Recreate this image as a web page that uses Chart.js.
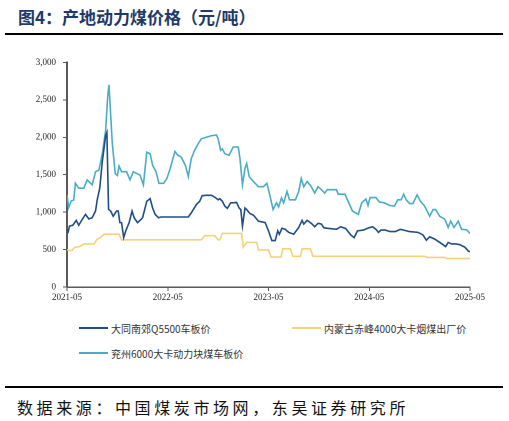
<!DOCTYPE html>
<html lang="zh-CN">
<head>
<meta charset="UTF-8">
<title>产地动力煤价格</title>
<script src="https://cdn.jsdelivr.net/npm/chart.js@4.4.1/dist/chart.umd.min.js"></script>
<style>
    html, body {
        margin: 0;
        padding: 0;
        background: #ffffff;
    }
    .page {
        position: relative;
        width: 509px;
        height: 421px;
        overflow: hidden;
        font-family: "Noto Sans CJK SC", sans-serif;
    }
    .title {
        position: absolute;
        left: 18px;
        top: 4px;
        font-size: 17px;
        font-weight: 700;
        color: #1f3a68;
        white-space: nowrap;
    }
    .rule {
        position: absolute;
        left: 5px;
        width: 498px;
        height: 2px;
        background: #000;
    }
    .chart-box {
        position: absolute;
        left: 0;
        top: 50px;
        width: 509px;
        height: 260px;
    }
    .legend-item {
        position: absolute;
        display: flex;
        align-items: center;
        font-size: 10px;
        color: #333;
        white-space: nowrap;
        height: 14px;
    }
    .legend-item .swatch {
        width: 29px;
        height: 2px;
        margin-right: 3px;
    }
    .source {
        position: absolute;
        left: 17px;
        top: 395px;
        font-size: 16px;
        letter-spacing: 3.6px;
        color: #111;
        white-space: nowrap;
    }
</style>
</head>
<body>
<div class="page">
    <div class="title">图4：产地动力煤价格（元/吨）</div>
    <div class="rule" style="top: 33px;"></div>
    <div class="chart-box"><canvas id="coalChart" width="509" height="260"></canvas></div>
    <div id="legend"></div>
    <div class="rule" style="top: 386px;"></div>
    <div class="source">数据来源：中国煤炭市场网，东吴证券研究所</div>
</div>

<script>
// Months counted from 2021-05 (0 = 2021-05, 48 = 2025-05)
const axisStartYear = 2021;
const yTicks = [0, 500, 1000, 1500, 2000, 2500, 3000];
const xTicks = [0, 12, 24, 36, 48];

const seriesNames = ['大同南郊Q5500车板价', '内蒙古赤峰4000大卡烟煤出厂价', '兖州6000大卡动力块煤车板价'];
const seriesColors = ['#1f4e84', '#f3d27a', '#4bacc6'];

// 大同南郊Q5500车板价
const datongMonths = [0, 0.15, 0.3, 0.7, 1.1, 1.4, 1.8, 2.2, 2.6, 3.0, 3.4, 3.6, 3.9, 4.2, 4.6, 4.75, 4.95, 5.2, 5.5, 5.9,
    6.1, 6.3, 6.5, 6.75, 7.0, 7.4, 7.75, 8.0, 8.4, 8.8, 9.0, 9.5, 9.9, 10.2, 10.5, 10.9, 11.2, 14.45, 14.8, 15.4,
    15.8, 16.1, 16.6, 17.2, 17.6, 18.0, 18.2, 18.5, 18.8, 19.1, 19.5, 19.8, 20.2, 20.5, 20.7, 20.9, 21.2, 21.4, 21.8, 22.2,
    22.8, 23.6, 24.0, 24.4, 24.8, 25.1, 25.3, 25.6, 26.0, 26.4, 27.0, 27.6, 28.0, 28.2, 28.6, 29.1, 29.5, 29.9, 30.3, 30.6,
    31.3, 32.1, 32.6, 33.2, 33.8, 34.2, 34.6, 35.3, 35.8, 36.4, 36.8, 37.1, 37.4, 37.9, 38.5, 39.1, 39.7, 40.1, 40.8, 41.8,
    42.4, 42.8, 43.2, 43.8, 44.4, 45.1, 45.4, 45.8, 46.3, 46.8, 47.4, 47.8, 48.0];
const datongPrices = [770, 740, 815, 825, 890, 825, 900, 970, 910, 925, 1015, 1165, 1320, 1670, 2020, 2065, 1035, 1015, 945, 1015,
    1015, 860, 860, 660, 750, 860, 1015, 925, 860, 900, 925, 1145, 1180, 1055, 970, 925, 935, 935, 990, 1100,
    1145, 1220, 1225, 1225, 1200, 1165, 1180, 1145, 1080, 1050, 1125, 1125, 1130, 1055, 1035, 815, 1055, 1035, 980, 960,
    880, 860, 750, 620, 620, 750, 705, 785, 770, 730, 705, 795, 890, 840, 890, 850, 805, 850, 840, 790,
    780, 770, 805, 780, 695, 660, 750, 760, 785, 805, 770, 730, 760, 760, 740, 740, 770, 760, 740, 730,
    695, 625, 670, 640, 595, 540, 595, 575, 575, 565, 530, 480, 470];

// 内蒙古赤峰4000大卡烟煤出厂价
const chifengMonths = [0, 0.3, 0.6, 0.9, 1.5, 2.0, 3.2, 3.6, 4.0, 4.4, 6.2, 6.5, 16.0, 16.4, 17.6, 18.0, 18.2, 18.5, 20.8, 21.0,
    21.4, 22.6, 22.8, 24.0, 24.3, 25.5, 25.7, 26.6, 26.9, 27.8, 28.0, 29.0, 29.3, 42.6, 42.9, 45.0, 45.2, 48.0];
const chifengPrices = [500, 485, 490, 530, 540, 575, 575, 640, 660, 705, 705, 630, 630, 685, 685, 630, 630, 715, 715, 530,
    595, 595, 495, 495, 400, 400, 510, 510, 410, 410, 510, 510, 410, 410, 395, 395, 380, 380];

// 兖州6000大卡动力块煤车板价
const yanzhouMonths = [0, 0.2, 0.5, 0.8, 1.0, 1.4, 2.0, 2.4, 3.0, 3.4, 3.8, 4.2, 4.6, 4.85, 5.0, 5.4, 5.75, 6.0, 6.2, 6.5,
    7.1, 7.5, 7.9, 8.3, 8.7, 9.1, 9.5, 9.9, 10.2, 10.6, 10.95, 11.5, 11.9, 12.3, 12.85, 13.2, 13.6, 14.1, 14.45, 14.8,
    15.2, 15.6, 16.0, 16.6, 17.2, 17.8, 18.0, 18.3, 18.5, 18.8, 19.3, 19.8, 20.4, 20.6, 20.9, 21.2, 21.4, 21.7, 22.2, 22.8,
    23.4, 23.8, 24.1, 24.55, 24.95, 25.2, 25.55, 25.8, 26.2, 26.5, 27.2, 27.6, 27.9, 28.2, 28.6, 29.1, 29.5, 29.9, 30.3, 30.7,
    31.0, 32.1, 32.3, 33.1, 34.0, 34.7, 35.1, 35.6, 35.85, 36.1, 36.8, 37.2, 37.8, 38.4, 39.0, 39.4, 39.8, 40.1, 40.4, 40.8,
    41.2, 41.7, 42.1, 42.6, 43.2, 43.6, 43.9, 44.4, 45.0, 45.4, 45.7, 46.1, 46.6, 47.0, 47.6, 48.0];
const yanzhouPrices = [1230, 1060, 1150, 1160, 1385, 1320, 1320, 1430, 1365, 1540, 1560, 1780, 2090, 2550, 2700, 1910, 1515, 1490, 1615, 1540,
    1540, 1430, 1540, 1515, 1495, 1365, 1800, 1780, 1625, 1540, 1385, 1385, 1450, 1585, 1810, 1760, 1735, 1625, 1475, 1715,
    1825, 1910, 1980, 2000, 2020, 2030, 1980, 1825, 1845, 1780, 1760, 1870, 1870, 1715, 1365, 1585, 1650, 1475, 1410, 1340,
    1340, 1385, 1255, 1035, 1125, 1070, 1190, 1125, 1275, 1165, 1165, 1275, 1450, 1340, 1410, 1340, 1255, 1340, 1300, 1255,
    1300, 1300, 1240, 1240, 1015, 970, 1125, 1175, 1090, 1195, 1195, 1135, 1125, 1090, 1080, 1165, 1165, 1240, 1165, 1115,
    1115, 1230, 1145, 1080, 945, 1035, 1035, 945, 905, 795, 880, 795, 880, 770, 765, 715];

// Pair month offsets with prices for a linear x axis
function toPoints(months, prices) {
    return months.map((m, i) => ({ x: m, y: prices[i] }));
}

function monthLabel(value) {
    return (axisStartYear + Math.round(value / 12)) + '-05';
}

const axisColor = '#595959';
const tickFont = { family: '"Liberation Serif", "Times New Roman", serif', size: 9 };

document.addEventListener('DOMContentLoaded', function() {
    initCoalChart();
});

function initCoalChart() {
    const ctx = document.getElementById('coalChart');
    if (!ctx) return;

    const seriesData = [
        toPoints(datongMonths, datongPrices),
        toPoints(chifengMonths, chifengPrices),
        toPoints(yanzhouMonths, yanzhouPrices)
    ];

    const chart = new Chart(ctx, {
        type: 'line',
        data: {
            datasets: seriesNames.map((name, i) => ({
                label: name,
                data: seriesData[i],
                borderColor: seriesColors[i],
                backgroundColor: seriesColors[i],
                borderWidth: 1.6,
                pointRadius: 0,
                tension: 0,
                fill: false
            }))
        },
        options: {
            responsive: false,
            animation: false,
            devicePixelRatio: 2,
            layout: {
                padding: { top: 9, right: 39, bottom: 0, left: 0 }
            },
            plugins: {
                legend: { display: false },
                tooltip: { enabled: false }
            },
            scales: {
                x: {
                    type: 'linear',
                    min: 0,
                    max: 48,
                    afterBuildTicks: function(scale) {
                        scale.ticks = xTicks.map(v => ({ value: v }));
                    },
                    afterFit: function(scale) {
                        scale.height = 23;
                    },
                    ticks: {
                        color: '#222',
                        font: tickFont,
                        padding: 1,
                        maxRotation: 0,
                        callback: function(value) {
                            return monthLabel(value);
                        }
                    },
                    grid: {
                        drawOnChartArea: false,
                        tickLength: 4,
                        color: axisColor,
                        lineWidth: 1
                    },
                    border: {
                        color: axisColor,
                        width: 1.5
                    }
                },
                y: {
                    min: 0,
                    max: 3000,
                    afterBuildTicks: function(scale) {
                        scale.ticks = yTicks.map(v => ({ value: v }));
                    },
                    afterFit: function(scale) {
                        scale.width = 67;
                    },
                    ticks: {
                        color: '#222',
                        font: tickFont,
                        padding: 7,
                        callback: function(value) {
                            return value.toLocaleString('en-US');
                        }
                    },
                    grid: {
                        drawOnChartArea: false,
                        tickLength: 4,
                        color: axisColor,
                        lineWidth: 1
                    },
                    border: {
                        color: axisColor,
                        width: 2
                    }
                }
            }
        }
    });

    buildLegend(chart);
}

// Legend drawn as html, laid out in two columns like the source figure
function buildLegend(chart) {
    const holder = document.getElementById('legend');
    const slots = [
        { left: 79, top: 321 },
        { left: 292, top: 321 },
        { left: 79, top: 346 }
    ];
    chart.data.datasets.forEach((ds, i) => {
        const item = document.createElement('div');
        item.className = 'legend-item';
        item.style.left = slots[i].left + 'px';
        item.style.top = slots[i].top + 'px';
        item.innerHTML = `<span class="swatch" style="background:${ds.borderColor}"></span><span>${ds.label}</span>`;
        holder.appendChild(item);
    });
}
</script>
</body>
</html>
